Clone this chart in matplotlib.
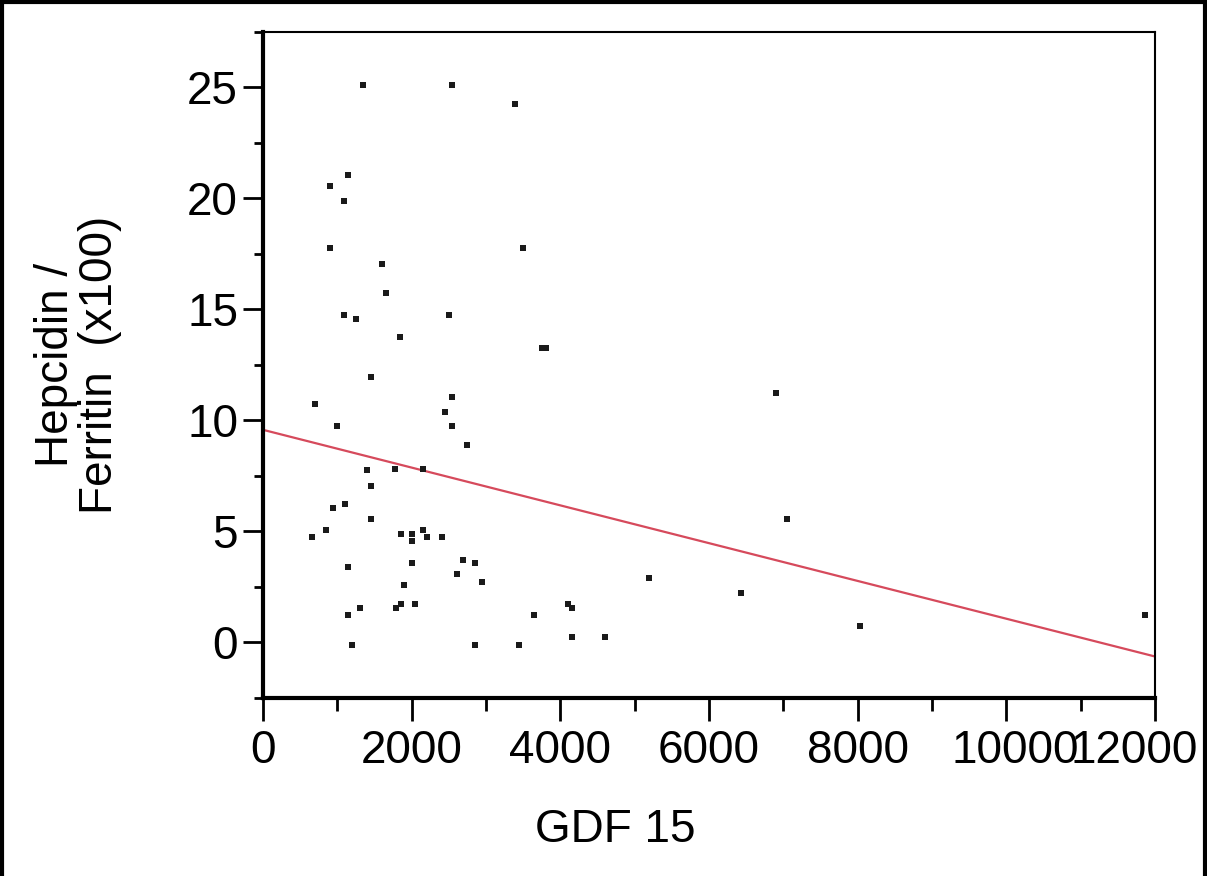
import numpy as np
import matplotlib
matplotlib.use("Agg")
import matplotlib.pyplot as plt
from matplotlib.lines import Line2D

plt.rcParams['font.family'] = ['Liberation Sans', 'DejaVu Sans']

# GDF 15 vs Hepcidin/Ferritin (x100)
gdf15 = [1350, 2547, 3395, 1148, 901, 1094, 901, 3498, 1601, 1650,
         1094, 1251, 2502, 1847, 3750, 3800, 1448, 2547, 700, 2449,
         1000, 2547, 2749, 1403, 1780, 2150, 1448, 1103, 946, 1448,
         848, 655, 1851, 2000, 2000, 2148, 2202, 2404, 1148, 2000,
         2695, 2852, 2606, 2950, 1897, 1851, 2049, 1794, 1305, 1148,
         4099, 4153, 3650, 1201, 2852, 3448, 4153, 4601, 6902, 7050,
         5193, 6431, 8032, 11870]
ratio = [25.1, 25.1, 24.25, 21.07, 20.58, 19.9, 17.75, 17.75, 17.07, 15.76,
         14.73, 14.58, 14.73, 13.74, 13.25, 13.25, 11.95, 11.08, 10.73, 10.39,
         9.74, 9.74, 8.9, 7.75, 7.8, 7.8, 7.06, 6.24, 6.05, 5.56,
         5.07, 4.74, 4.89, 4.89, 4.59, 5.07, 4.74, 4.74, 3.4, 3.57,
         3.72, 3.57, 3.07, 2.73, 2.58, 1.74, 1.74, 1.54, 1.54, 1.23,
         1.74, 1.54, 1.23, -0.1, -0.1, -0.1, 0.24, 0.24, 11.24, 5.58,
         2.92, 2.25, 0.76, 1.25]

# fitted line as shown in the chart
fit_intercept = 9.58
fit_slope = -0.000851

xticks = [0, 2000, 4000, 6000, 8000, 10000, 12000]
xticklabels = ['0', '2000', '4000', '6000', '8000', '10000', '12000']

x = np.array(gdf15, dtype=float)
y = np.array(ratio)

fig = plt.figure(figsize=(12.07, 8.76), dpi=100)
ax = fig.add_axes([0.2179, 0.2032, 0.957 - 0.2179, 0.9635 - 0.2032])

xl = np.array([0, 12000])
ax.plot(xl, fit_intercept + fit_slope * xl, color='#d64a5c', lw=1.6, zorder=2)
ax.scatter(x, y, marker='s', s=18, color='#1a1a1a', linewidths=0, zorder=3)

ax.set_xlim(0, 12000)
ax.set_ylim(-2.5, 27.5)
ax.set_xticks(xticks)
ax.set_xticklabels([])
ax.set_xticks(np.arange(1000, 12000, 2000), minor=True)
ax.set_yticks(np.arange(0, 26, 5))
ax.set_yticks(np.arange(-2.5, 28, 5), minor=True)

ax.tick_params(axis='both', which='both', direction='out', width=2,
               labelsize=33, colors='black')
ax.tick_params(axis='x', which='major', length=16.5)
ax.tick_params(axis='x', which='minor', length=9)
ax.tick_params(axis='y', which='major', length=14.5, pad=3.5)
ax.tick_params(axis='y', which='minor', length=6.5)

# x tick labels; the last ones are nudged the way the chart squeezes them in
nudge = {10000: 6, 12000: -15}
for v, lab in zip(xticks, xticklabels):
    ax.annotate(lab, xy=(v, 0), xycoords=ax.get_xaxis_transform(),
                xytext=(nudge.get(v, 0), -22.5), textcoords='offset points',
                ha='center', va='top', fontsize=33, annotation_clip=False)

for s in ['left', 'bottom']:
    ax.spines[s].set_linewidth(3)
for s in ['top', 'right']:
    ax.spines[s].set_linewidth(1.5)

fig.text(615 / 1207, 1 - 842 / 876, 'GDF 15', fontsize=33,
         ha='center', va='baseline')
fig.text(78 / 1207, 1 - 365 / 876, 'Hepcidin /\nFerritin  (x100)', fontsize=33,
         rotation=90, ha='center', va='center', multialignment='center',
         linespacing=1.0)

# frame around the picture (top, left, right)
for xs, ys in [([0.002, 0.002], [0, 0.998]), ([0.002, 0.998], [0.9975, 0.9975]),
               ([0.998, 0.998], [0, 0.998])]:
    fig.add_artist(Line2D(xs, ys, transform=fig.transFigure, color='black', lw=3))

fig.savefig('out.png', dpi=100)
